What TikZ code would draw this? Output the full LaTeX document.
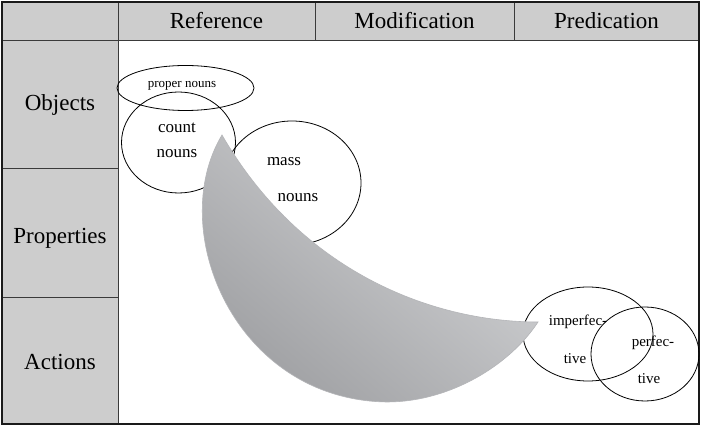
\documentclass[tikz,border=0pt]{standalone}
\usepackage{fontspec}
\setmainfont{Liberation Serif}
\usetikzlibrary{shapes.geometric}
\definecolor{CellGray}{HTML}{CDCDCD}
\definecolor{GridLine}{HTML}{3A3A3A}
\definecolor{FrameLine}{HTML}{1A1A1A}
\definecolor{MoonLight}{HTML}{D4D5D7}
\definecolor{MoonDark}{HTML}{9C9DA0}
\definecolor{MoonEdge}{HTML}{B4B5B8}
\tikzset{
	headcell/.style={anchor=center, text=black, font=\fontsize{23}{25}\selectfont},
	wordset/.style={ellipse, draw=black, line width=0.8pt, inner sep=0pt},
	wordtext/.style={anchor=center, text=black, font=\fontsize{17}{19}\selectfont},
}

\begin{document}
\begin{tikzpicture}[x=1pt,y=-1pt]
	\useasboundingbox (0,0) rectangle (702,427);
	\fill[white] (0,0) rectangle (702,427);

	% grey header row and header column
	\fill[CellGray] (2,2) rectangle (699,40);
	\fill[CellGray] (2,40) rectangle (118,424);
	\draw[GridLine, line width=0.9pt] (2,40) -- (699,40);
	\draw[GridLine, line width=0.9pt] (118,2) -- (118,424);
	\foreach \xcut in {315,514} {
		\draw[GridLine, line width=0.9pt] (\xcut,2) -- (\xcut,40);
	}
	\foreach \ycut in {168,297} {
		\draw[GridLine, line width=0.9pt] (2,\ycut) -- (118,\ycut);
	}
	\draw[FrameLine, line width=1.4pt] (2,2) rectangle (699,424);

	\node[headcell] (reference) at (216.5,21) {Reference};
	\node[headcell] (modification) at (414.5,21) {Modification};
	\node[headcell] (predication) at (606.5,21) {Predication};
	\node[headcell] (objects) at (60,105) {Objects};
	\node[headcell] (properties) at (60,238) {Properties};
	\node[headcell] (actions) at (60,362) {Actions};

	% word classes
	\node[wordset, minimum width=137pt, minimum height=45pt] (proper) at (185.5,88) {};
	\node[wordset, minimum width=114pt, minimum height=101pt] (count) at (178.5,142.5) {};
	\node[wordset, minimum width=138pt, minimum height=124pt] (mass) at (292,183) {};
	\node[wordset, minimum width=130pt, minimum height=94pt] (imperf) at (588,334) {};
	\node[wordset, minimum width=108pt, minimum height=94pt] (perf) at (645,354) {};

	\node[anchor=center, font=\fontsize{13}{15}\selectfont] (propertext) at (182,86) {proper nouns};
	\node[wordtext] (countA) at (177,128) {count};
	\node[wordtext] (countB) at (177,154) {nouns};
	\node[wordtext] (massA) at (284,162) {mass};
	\node[wordtext] (massB) at (298,198) {nouns};
	\node[wordtext, font=\fontsize{15}{17}\selectfont] (imperfA) at (578,322) {imperfec-};
	\node[wordtext, font=\fontsize{15}{17}\selectfont] (imperfB) at (575,359) {tive};
	\node[wordtext, font=\fontsize{15}{17}\selectfont] (perfA) at (653,343) {perfec-};
	\node[wordtext, font=\fontsize{15}{17}\selectfont] (perfB) at (649,379) {tive};

	% the crescent
	\shade[top color=MoonLight, bottom color=MoonDark, shading angle=-40, draw=MoonEdge, line width=0.6pt]
		(222,135) .. controls (165,230) and (235,400) .. (387,402)
		.. controls (450,402) and (510,365) .. (538,322)
		.. controls (430,322) and (300,270) .. (222,135) -- cycle;
\end{tikzpicture}
\end{document}
